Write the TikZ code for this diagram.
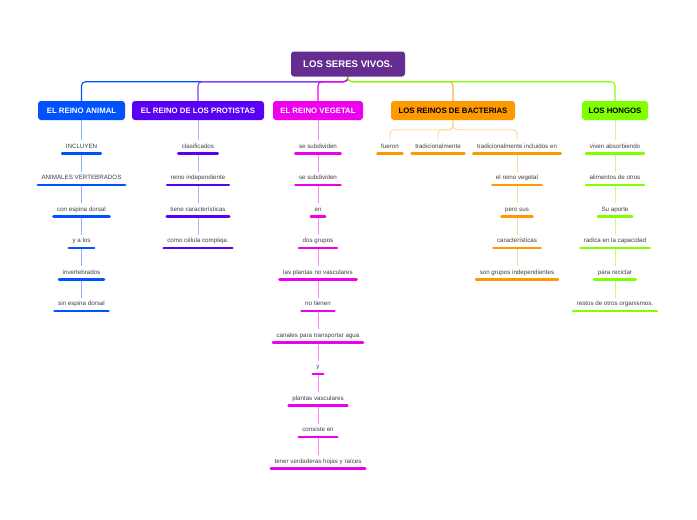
\documentclass[tikz,border=0pt]{standalone}
\usepackage{fontspec}
\setmainfont{Liberation Sans}
\usetikzlibrary{backgrounds}
\definecolor{rootc}{HTML}{662D91}
\definecolor{animc}{HTML}{0052FF}
\definecolor{protc}{HTML}{5A00F5}
\definecolor{vegc}{HTML}{EE00EE}
\definecolor{bacc}{HTML}{FF9900}
\definecolor{hongc}{HTML}{80FF00}
\definecolor{textc}{HTML}{404040}
\newcommand\itm[5]{%
  \node[item] (#1) at (#2,#3) {#5};
  \draw[uline,#4] (#1.south west) -- (#1.south east);}
\begin{document}
\begin{tikzpicture}[x=1pt,y=-1pt,
  box/.style={rounded corners=3pt, minimum height=19pt, inner sep=0pt,
    font=\fontsize{7.8}{9}\selectfont\bfseries, text=white},
  item/.style={font=\fontsize{6.2}{7}\selectfont, text=textc, inner xsep=3.5pt,
    inner ysep=3.6pt, anchor=south, text height=4.4pt, text depth=1.3pt},
  uline/.style={line width=2.6pt, line cap=round},
  topline/.style={line width=1.1pt, rounded corners=4pt},
  subline/.style={line width=0.9pt, rounded corners=4pt}
]
\useasboundingbox (0,0) rectangle (697,520);

% root and main boxes
\node[box, fill=rootc, minimum width=114pt, minimum height=25pt,
  font=\fontsize{9.6}{11}\selectfont\bfseries] (root) at (348,64) {LOS SERES VIVOS.};
\node[box, fill=animc, minimum width=87pt] (animal) at (81.5,110.5) {EL REINO ANIMAL};
\node[box, fill=protc, minimum width=132pt] (prot) at (198,110.5) {EL REINO DE LOS PROTISTAS};
\node[box, fill=vegc, minimum width=90pt] (veg) at (318,110.5) {EL REINO VEGETAL};
\node[box, fill=bacc, minimum width=124pt, text=black] (bact) at (453,110.5) {LOS REINOS DE BACTERIAS};
\node[box, fill=hongc, minimum width=66pt, text=black] (hong) at (615,110.5) {LOS HONGOS};

% animal
\itm{a1}{81.5}{153.5}{animc}{INCLUYEN}
\itm{a2}{81.5}{185}{animc}{ANIMALES VERTEBRADOS}
\itm{a3}{81.5}{216.5}{animc}{con espina dorsal}
\itm{a4}{81.5}{248}{animc}{y a los}
\itm{a5}{81.5}{279.5}{animc}{invertebrados}
\itm{a6}{81.5}{311}{animc}{sin espina dorsal}

% protists
\itm{p1}{198}{153.5}{protc}{clasificados}
\itm{p2}{198}{185}{protc}{reino independiente}
\itm{p3}{198}{216.5}{protc}{tiene características}
\itm{p4}{198}{248}{protc}{como célula compleja.}

% vegetal
\itm{v1}{318}{153.5}{vegc}{se subdividen}
\itm{v2}{318}{185}{vegc}{se subdividen}
\itm{v3}{318}{216.5}{vegc}{en}
\itm{v4}{318}{248}{vegc}{dos grupos}
\itm{v5}{318}{279.5}{vegc}{las plantas no vasculares}
\itm{v6}{318}{311}{vegc}{no tienen}
\itm{v7}{318}{342.5}{vegc}{canales para transportar agua}
\itm{v8}{318}{374}{vegc}{y}
\itm{v9}{318}{405.5}{vegc}{plantas vasculares}
\itm{v10}{318}{437}{vegc}{consiste en}
\itm{v11}{318}{468.5}{vegc}{tener verdaderas hojas y raíces}

% bacteria
\itm{b1}{390}{153.5}{bacc}{fueron}
\itm{b2}{438}{153.5}{bacc}{tradicionalmente}
\itm{b3}{517}{153.5}{bacc}{tradicionalmente incluidos en}
\itm{b4}{517}{185}{bacc}{el reino vegetal}
\itm{b5}{517}{216.5}{bacc}{pero sus}
\itm{b6}{517}{248}{bacc}{características}
\itm{b7}{517}{279.5}{bacc}{son grupos independientes}

% hongos
\itm{h1}{615}{153.5}{hongc}{viven absorbiendo}
\itm{h2}{615}{185}{hongc}{alimentos de otros}
\itm{h3}{615}{216.5}{hongc}{Su aporte}
\itm{h4}{615}{248}{hongc}{radica en la capacidad}
\itm{h5}{615}{279.5}{hongc}{para reciclar}
\itm{h6}{615}{311}{hongc}{restos de otros organismos.}

\begin{scope}[on background layer]
\fill[white] (0,0) rectangle (697,520);
% top connectors
\draw[topline, animc] (root.south) -- ++(0,5) -| (animal.north);
\draw[topline, protc!75] (root.south) -- ++(0,5) -| (prot.north);
\draw[topline, vegc] (root.south) -- ++(0,5) -| (veg.north);
\draw[topline, bacc!75] (root.south) -- ++(0,5) -| (bact.north);
\draw[topline, hongc] (root.south) -- ++(0,5) -| (hong.north);
% column connectors
\draw[subline, animc!45] (animal.south) -- (a1.north) (a1.south) -- (a2.north)
  (a2.south) -- (a3.north) (a3.south) -- (a4.north) (a4.south) -- (a5.north)
  (a5.south) -- (a6.north);
\draw[subline, protc!35] (prot.south) -- (p1.north) (p1.south) -- (p2.north)
  (p2.south) -- (p3.north) (p3.south) -- (p4.north);
\draw[subline, vegc!45] (veg.south) -- (v1.north) (v1.south) -- (v2.north)
  (v2.south) -- (v3.north) (v3.south) -- (v4.north) (v4.south) -- (v5.north)
  (v5.south) -- (v6.north) (v6.south) -- (v7.north) (v7.south) -- (v8.north)
  (v8.south) -- (v9.north) (v9.south) -- (v10.north) (v10.south) -- (v11.north);
\draw[subline, bacc!40] (bact.south) -- ++(0,9.5) -| (b1.north);
\draw[subline, bacc!40] (bact.south) -- ++(0,9.5) -| (b2.north);
\draw[subline, bacc!40] (bact.south) -- ++(0,9.5) -| (b3.north);
\draw[subline, bacc!40] (b3.south) -- (b4.north) (b4.south) -- (b5.north)
  (b5.south) -- (b6.north) (b6.south) -- (b7.north);
\draw[subline, hongc!50] (hong.south) -- (h1.north) (h1.south) -- (h2.north)
  (h2.south) -- (h3.north) (h3.south) -- (h4.north) (h4.south) -- (h5.north)
  (h5.south) -- (h6.north);
\end{scope}
\end{tikzpicture}
\end{document}
